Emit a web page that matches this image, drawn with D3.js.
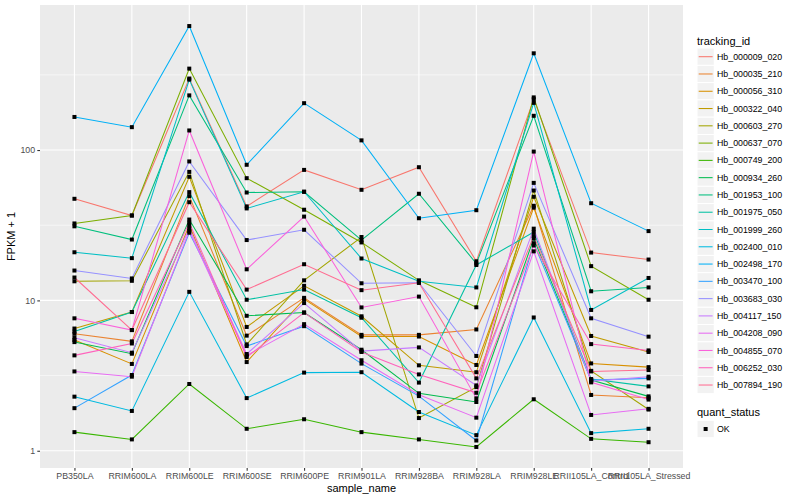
<!DOCTYPE html>
<html><head><meta charset="utf-8">
<script src="https://cdn.jsdelivr.net/npm/d3@7"></script>
<style>body{margin:0;background:#fff}svg{display:block;font-family:"Liberation Sans",Arial,Helvetica,sans-serif}</style>
</head><body>
<svg id="c" width="800" height="500"></svg>
<script>
const categories = ["PB350LA","RRIM600LA","RRIM600LE","RRIM600SE","RRIM600PE","RRIM901LA","RRIM928BA","RRIM928LA","RRIM928LE","RRII105LA_Control","RRII105LA_Stressed"];
const trackingIds = ["Hb_000009_020","Hb_000035_210","Hb_000056_310","Hb_000322_040","Hb_000603_270","Hb_000637_070","Hb_000749_200","Hb_000934_260","Hb_001953_100","Hb_001975_050","Hb_001999_260","Hb_002400_010","Hb_002498_170","Hb_003470_100","Hb_003683_030","Hb_004117_150","Hb_004208_090","Hb_004855_070","Hb_006252_030","Hb_007894_190"];
// FPKM + 1 per series, in category order
const Hb_000009_020 = [47.4, 36.7, 299, 42.2, 73.8, 54.4, 76.9, 18.2, 218, 20.8, 18.7];
const Hb_000035_210 = [6.0, 5.34, 49.4, 5.83, 10.4, 5.9, 5.9, 6.41, 42.6, 2.35, 2.25];
const Hb_000056_310 = [5.45, 3.78, 31.5, 3.89, 10.2, 5.75, 5.75, 3.72, 41.4, 3.81, 3.6];
const Hb_000322_040 = [6.5, 8.37, 66.4, 6.66, 12.5, 7.84, 3.70, 3.33, 48.9, 5.8, 4.54];
const Hb_000603_270 = [13.4, 13.5, 71.6, 5.1, 13.6, 26.4, 1.65, 2.65, 53.8, 3.4, 1.88];
const Hb_000637_070 = [32.5, 36.7, 348, 65, 40.1, 24.3, 13.6, 9.0, 224, 16.9, 10.1];
const Hb_000749_200 = [1.33, 1.19, 2.78, 1.40, 1.62, 1.33, 1.19, 1.06, 2.2, 1.20, 1.14];
const Hb_000934_260 = [5.28, 4.42, 34.5, 7.9, 8.3, 4.7, 2.41, 2.11, 25.8, 2.95, 2.30];
const Hb_001953_100 = [31.1, 25.4, 231, 52.2, 52.8, 25.2, 51.2, 17.6, 169, 11.5, 12.2];
const Hb_001975_050 = [6.2, 8.37, 52.5, 10.1, 11.8, 7.67, 2.84, 17.2, 28.5, 3.0, 2.68];
const Hb_001999_260 = [20.9, 19.1, 294, 40.9, 52.8, 19.0, 13.4, 12.2, 206, 8.64, 14.1];
const Hb_002400_010 = [2.29, 1.84, 11.4, 2.24, 3.31, 3.33, 1.81, 1.27, 7.7, 1.31, 1.40];
const Hb_002498_170 = [166, 142, 668, 79.8, 205, 116, 35.2, 39.8, 440, 44.3, 28.9];
const Hb_003470_100 = [1.92, 3.19, 28.2, 4.97, 6.74, 3.8, 2.31, 1.17, 24, 2.95, 3.03];
const Hb_003683_030 = [15.8, 14.0, 84, 25.2, 29.5, 13.0, 13.1, 4.27, 60.5, 7.6, 5.74];
const Hb_004117_150 = [5.65, 4.49, 30, 4.4, 9.6, 4.6, 4.87, 2.72, 30, 2.9, 3.11];
const Hb_004208_090 = [3.37, 3.11, 29, 4.3, 6.95, 4.0, 2.36, 1.66, 21.2, 1.73, 1.9];
const Hb_004855_070 = [7.6, 6.35, 135, 16.1, 36.1, 8.98, 10.6, 2.23, 97.7, 2.85, 2.19];
const Hb_006252_030 = [4.31, 5.17, 32.9, 4.2, 8.3, 4.54, 3.22, 2.43, 23.2, 5.12, 4.65];
const Hb_007894_190 = [14.2, 6.35, 45.0, 11.8, 17.4, 11.7, 13.1, 3.03, 26.8, 3.37, 3.44];
const yTicks = [1, 10, 100];
const yTickLabels = ["1", "10", "100"];
const quantStatus = ["OK"];

const seriesValues = [Hb_000009_020,Hb_000035_210,Hb_000056_310,Hb_000322_040,Hb_000603_270,Hb_000637_070,Hb_000749_200,Hb_000934_260,Hb_001953_100,Hb_001975_050,Hb_001999_260,Hb_002400_010,Hb_002498_170,Hb_003470_100,Hb_003683_030,Hb_004117_150,Hb_004208_090,Hb_004855_070,Hb_006252_030,Hb_007894_190];
const palette = ["#F8766D","#EA8331","#D89000","#C09B00","#A3A500","#7CAE00","#39B600","#00BB4E","#00BF7D","#00C1A3","#00BFC4","#00BAE0","#00B0F6","#35A2FF","#9590FF","#C77CFF","#E76BF3","#FA62DB","#FF62BC","#FF6C91"];

const series = trackingIds.map((id, i) => ({id, color: palette[i], values: seriesValues[i].map((v, j) => ({cat: categories[j], v}))}));

const svg = d3.select("#c");
const P = {l: 40, r: 683, t: 5, b: 468};

const all = seriesValues.flat();
const lmin = Math.log10(d3.min(all)), lmax = Math.log10(d3.max(all));
const ex = (lmax - lmin) * 0.05;
const y = d3.scaleLog().domain([Math.pow(10, lmin - ex), Math.pow(10, lmax + ex)]).range([P.b, P.t]);
const x = d3.scalePoint().domain(categories).range([P.l, P.r]).padding(0.6);

svg.append("rect").attr("x", P.l).attr("y", P.t).attr("width", P.r - P.l).attr("height", P.b - P.t).attr("fill", "#EBEBEB");

const g = svg.append("g");
// minor grid
const minor = [-0.5, 0.5, 1.5, 2.5, 3.5].map(e => Math.pow(10, e)).filter(v => v >= y.domain()[0] && v <= y.domain()[1]);
g.selectAll(".mn").data(minor).join("line").attr("x1", P.l).attr("x2", P.r)
  .attr("y1", d => y(d)).attr("y2", d => y(d)).attr("stroke", "#fff").attr("stroke-width", 0.55);
g.selectAll(".mj").data(yTicks).join("line").attr("x1", P.l).attr("x2", P.r)
  .attr("y1", d => y(d)).attr("y2", d => y(d)).attr("stroke", "#fff").attr("stroke-width", 1.1);
g.selectAll(".vx").data(categories).join("line").attr("y1", P.t).attr("y2", P.b)
  .attr("x1", d => x(d)).attr("x2", d => x(d)).attr("stroke", "#fff").attr("stroke-width", 1.1);

const line = d3.line().x(d => x(d.cat)).y(d => y(d.v));
svg.append("g").selectAll("path").data(series).join("path")
  .attr("d", d => line(d.values)).attr("fill", "none").attr("stroke", d => d.color).attr("stroke-width", 1.05);

svg.append("g").selectAll("g").data(series).join("g").selectAll("rect").data(d => d.values).join("rect")
  .attr("x", d => x(d.cat) - 2).attr("y", d => y(d.v) - 2).attr("width", 4).attr("height", 4).attr("fill", "#000");

// axes
const yAxis = d3.axisLeft(y).tickValues(yTicks).tickFormat((d, i) => yTickLabels[i]).tickSize(2.7).tickPadding(2.2);
const ya = svg.append("g").attr("transform", `translate(${P.l},0)`).call(yAxis);
const xAxis = d3.axisBottom(x).tickSize(2.7).tickPadding(2.2);
const xa = svg.append("g").attr("transform", `translate(0,${P.b})`).call(xAxis);
[ya, xa].forEach(a => {
  a.select(".domain").remove();
  a.selectAll(".tick line").attr("stroke", "#333333").attr("stroke-width", 1.07);
  a.selectAll(".tick text").attr("fill", "#4D4D4D").style("font-size", "8.8px").style("font-family", '"Liberation Sans",Arial,sans-serif');
});

svg.append("text").attr("x", (P.l + P.r) / 2).attr("y", 492).attr("text-anchor", "middle")
  .style("font-size", "11px").attr("fill", "#000").text("sample_name");
svg.append("text").attr("transform", `translate(15,${(P.t + P.b) / 2}) rotate(-90)`).attr("text-anchor", "middle")
  .style("font-size", "11px").attr("fill", "#000").text("FPKM + 1");

// legend
const lg = svg.append("g");
lg.append("text").attr("x", 697).attr("y", 44.5).style("font-size", "11px").attr("fill", "#000").text("tracking_id");
const row0 = 56.7, rowH = 17.28;
const items = lg.selectAll(".it").data(series).join("g").attr("transform", (d, i) => `translate(697,${row0 + i * rowH})`);
items.append("rect").attr("x", 0).attr("y", -rowH / 2).attr("width", 17.28).attr("height", rowH).attr("fill", "#F2F2F2").attr("stroke", "#fff").attr("stroke-width", 1);
items.append("line").attr("x1", 1.7).attr("x2", 15.6).attr("y1", 0).attr("y2", 0).attr("stroke", d => d.color).attr("stroke-width", 1.05);
items.append("text").attr("x", 20).attr("y", 0).attr("dy", "0.35em").style("font-size", "8.8px").attr("fill", "#000").text(d => d.id);

lg.append("text").attr("x", 697).attr("y", 416).style("font-size", "11px").attr("fill", "#000").text("quant_status");
const q = lg.selectAll(".q").data(quantStatus).join("g").attr("transform", (d, i) => `translate(697,${429 + i * rowH})`);
q.append("rect").attr("x", 0).attr("y", -rowH / 2).attr("width", 17.28).attr("height", rowH).attr("fill", "#F2F2F2").attr("stroke", "#fff").attr("stroke-width", 1);
q.append("rect").attr("x", 8.64 - 2).attr("y", -2).attr("width", 4).attr("height", 4).attr("fill", "#000");
q.append("text").attr("x", 20).attr("y", 0).attr("dy", "0.35em").style("font-size", "8.8px").attr("fill", "#000").text(d => d);
</script>
</body></html>
